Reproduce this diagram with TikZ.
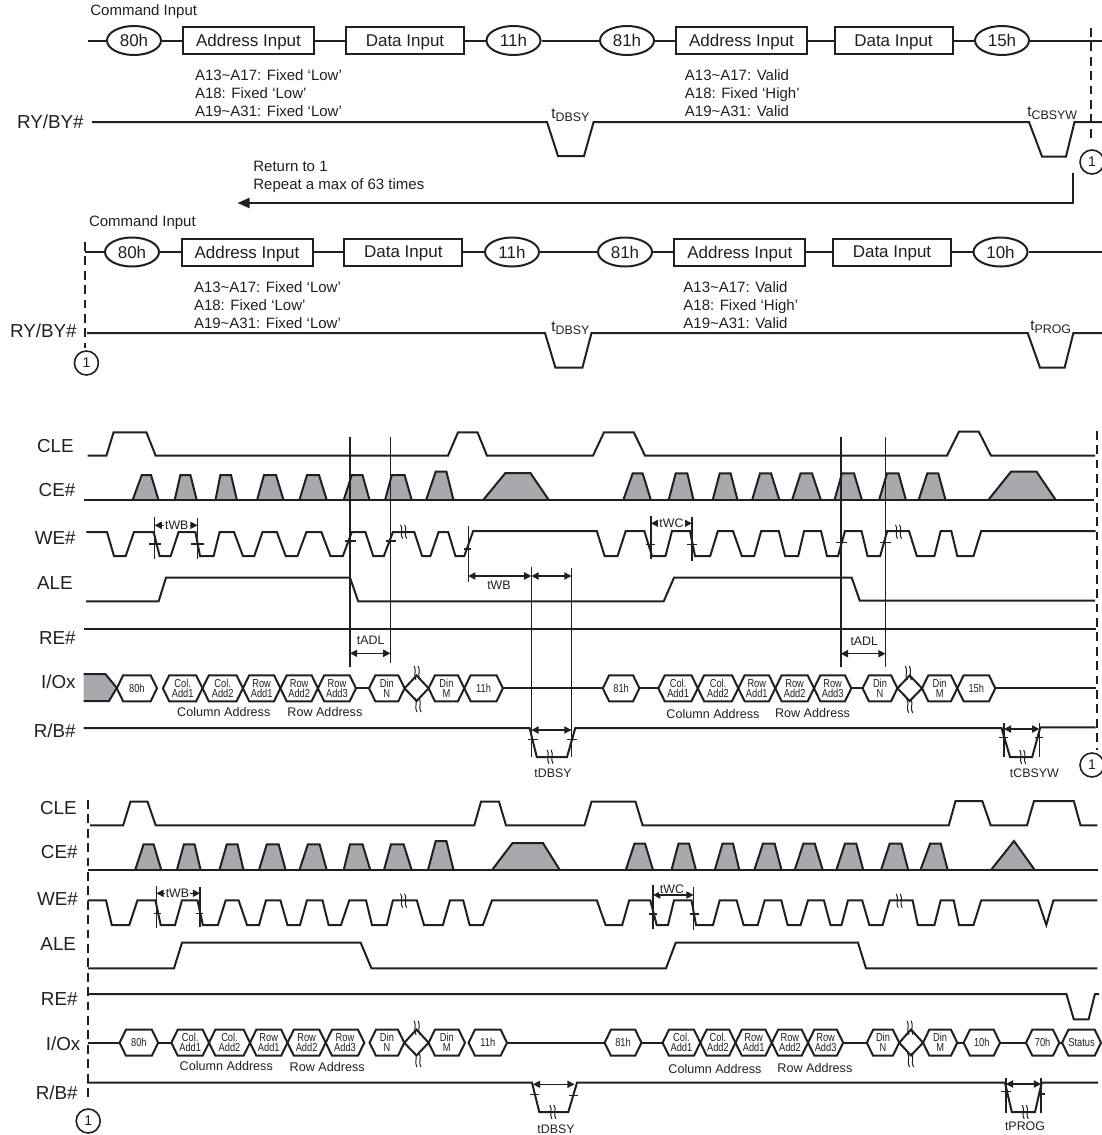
\documentclass[tikz,border=0pt]{standalone}
\usepackage{fontspec}
\setmainfont{Liberation Sans}
\newfontfamily\narrowfont[FakeStretch=0.8]{Liberation Sans}
\usetikzlibrary{arrows.meta,shapes.geometric,shapes.symbols}
\definecolor{ink}{HTML}{231F20}
\definecolor{pulsegray}{HTML}{A7A9AC}
\tikzset{
  sig/.style={color=ink,line width=1pt,line join=miter},
  thinv/.style={color=ink,line width=0.7pt},
  flow/.style={color=ink,line width=1pt},
  dim/.style={color=ink,line width=0.7pt,{Triangle[length=3.6pt,width=3.6pt]}-{Triangle[length=3.6pt,width=3.6pt]}},
  back/.style={color=ink,line width=1pt,-{Triangle[length=6pt,width=5pt]}},
  dashv/.style={color=ink,line width=1pt,dash pattern=on 4.4pt off 2.8pt},
  pulse/.style={draw=ink,fill=pulsegray,line width=1pt,line join=miter},
  cmdell/.style={draw=ink,line width=1pt,ellipse,inner sep=0pt,minimum width=27pt,minimum height=14.5pt,font=\fontsize{8.5}{10}\selectfont,text=ink},
  cmdbox/.style={draw=ink,line width=1pt,rectangle,inner sep=0pt,text depth=0pt,minimum height=13.5pt,font=\fontsize{8.5}{10}\selectfont,text=ink},
  busnode/.style={draw=ink,line width=1pt,signal,signal to=east and west,signal pointer angle=128,inner sep=0pt,outer sep=0pt,minimum height=13pt,align=center,font=\narrowfont\fontsize{5.8}{5}\selectfont,text=ink},
  sigl/.style={anchor=east,inner sep=0pt,text=ink,font=\fontsize{9.4}{11}\selectfont},
  lbl/.style={anchor=west,inner sep=0pt,align=left,text=ink,font=\fontsize{7.5}{9}\selectfont},
  addr/.style={anchor=west,inner sep=0pt,text=ink,font=\fontsize{6.3}{8}\selectfont},
  tlab/.style={inner sep=0pt,text=ink,font=\fontsize{6.2}{7}\selectfont},
  tgap/.style={tlab,fill=white,inner xsep=0.6pt,inner ysep=0.3pt},
  mark1/.style={draw=ink,line width=0.8pt,circle,inner sep=0pt,minimum size=12pt,text=ink,font=\fontsize{7}{8}\selectfont},
}
\newcommand{\brkmark}[2]{%
  \draw [color=ink,line width=0.5pt] ({#1-3},{#2-7}) .. controls ({#1},{#2-3}) and ({#1-4},{#2+3}) .. ({#1-1},{#2+7});
  \draw [color=ink,line width=0.5pt] ({#1+1},{#2-7}) .. controls ({#1+4},{#2-3}) and ({#1},{#2+3}) .. ({#1+3},{#2+7});
}
\newcommand{\tsubb}[1]{t\raisebox{-1.6pt}{\fontsize{6.2}{7}\selectfont #1}}
\begin{document}
\begin{tikzpicture}[x=0.5pt,y=-0.5pt]
  \useasboundingbox (0,0) rectangle (1102,1135);

  % first command row
  \node [lbl] (cmdA) at (90,12) {Command Input};
  \coordinate (stA) at (88,40.5);
  \coordinate (enA) at (1102,40.5);
  \node [cmdell] (e80A) at (134,40.5) {80h};
  \node [cmdbox,minimum width=65.5pt] (adrA) at (248.5,40.5) {Address Input};
  \node [cmdbox,minimum width=59pt] (datA) at (405,40.5) {Data Input};
  \node [cmdell] (e11A) at (513.5,40.5) {11h};
  \node [cmdell] (e81A) at (627,40.5) {81h};
  \node [cmdbox,minimum width=65.5pt] (adrB) at (741.5,40.5) {Address Input};
  \node [cmdbox,minimum width=59pt] (datB) at (893.5,40.5) {Data Input};
  \node [cmdell] (e15A) at (1002,40.5) {15h};
  \draw [flow] (stA) -- (e80A) -- (adrA) -- (datA) -- (e11A) -- (e81A) -- (adrB) -- (datB) -- (e15A) -- (enA);
  \node [lbl] (fixA) at (194.6,93) {A13\textasciitilde A17: Fixed ‘Low’\\A18: Fixed ‘Low’\\A19\textasciitilde A31: Fixed ‘Low’};
  \node [lbl] (valA) at (684.5,93) {A13\textasciitilde A17: Valid\\A18: Fixed ‘High’\\A19\textasciitilde A31: Valid};
  \node [sigl] (ryA) at (84,122) {RY/BY\#};
  \draw [sig] (92,122) -- (547,122) -- (558,156) -- (584,156) -- (593.6,122) -- (1029,122) -- (1042,156.5) -- (1066,156.5) -- (1074.5,122) -- (1102,122);
  \node [lbl] (dbA) at (551,115) {\tsubb{DBSY}};
  \node [lbl] (cbA) at (1027,113) {\tsubb{CBSYW}};
  \draw [dashv] (1091,28) -- (1091,143);
  \node [mark1] (oneA) at (1092,162) {1};
  \node [lbl] (retA) at (253,177) {Return to 1\\Repeat a max of 63 times};
  \coordinate (backS) at (1072.7,173);
  \coordinate (backC) at (1072.7,203);
  \coordinate (backE) at (237.5,203);
  \draw [back] (backS) -- (backC) -- (backE);

  % second command row
  \node [lbl] (cmdB) at (88.6,223) {Command Input};
  \coordinate (stB) at (85,252);
  \coordinate (enB) at (1102,252);
  \node [cmdell] (e80B) at (132,252) {80h};
  \node [cmdbox,minimum width=65.5pt] (adrC) at (247,252) {Address Input};
  \node [cmdbox,minimum width=59pt] (datC) at (403.3,252) {Data Input};
  \node [cmdell] (e11B) at (512,252) {11h};
  \node [cmdell] (e81B) at (625,252) {81h};
  \node [cmdbox,minimum width=65.5pt] (adrD) at (739.8,252) {Address Input};
  \node [cmdbox,minimum width=59pt] (datD) at (892,252) {Data Input};
  \node [cmdell] (e10B) at (1000.5,252) {10h};
  \draw [flow] (stB) -- (e80B) -- (adrC) -- (datC) -- (e11B) -- (e81B) -- (adrD) -- (datD) -- (e10B) -- (enB);
  \node [lbl] (fixB) at (193.6,304.7) {A13\textasciitilde A17: Fixed ‘Low’\\A18: Fixed ‘Low’\\A19\textasciitilde A31: Fixed ‘Low’};
  \node [lbl] (valB) at (683,304.7) {A13\textasciitilde A17: Valid\\A18: Fixed ‘High’\\A19\textasciitilde A31: Valid};
  \node [sigl] (ryB) at (77,331) {RY/BY\#};
  \draw [sig] (87,333) -- (545,333) -- (555.4,367.7) -- (582.4,367.7) -- (591.5,333) -- (1027.7,333) -- (1040,367.7) -- (1064.6,367.7) -- (1073.4,333) -- (1102,333);
  \node [lbl] (dbB) at (551,328) {\tsubb{DBSY}};
  \node [lbl] (prB) at (1030,327) {\tsubb{PROG}};
  \draw [dashv] (85,242) -- (85,348);
  \node [mark1] (oneB) at (86.4,363) {1};

  % first timing block
  \node [sigl] (cleC) at (74,446) {CLE};
  \node [sigl] (ceC) at (75.7,490) {CE\#};
  \node [sigl] (weC) at (76,538) {WE\#};
  \node [sigl] (aleC) at (73,583) {ALE};
  \node [sigl] (reC) at (76,638) {RE\#};
  \node [sigl] (ioC) at (76,682) {I/Ox};
  \node [sigl] (rbC) at (76,731) {R/B\#};
  \draw [sig] (87.5,455.7) -- (106.4,455.7) -- (113.6,432.3) -- (146.4,432.3) -- (155.7,455.7) -- (448,455.7) -- (458,432.3) -- (477.5,432.3) -- (487,455.7) -- (593,455.7) -- (604,432.3) -- (633.8,432.3) -- (645,455.7) -- (947,455.7) -- (959,431.5) -- (978.7,431.5) -- (991,455.7) -- (1095,455.7);
  \foreach \pa/\pb/\pc/\pd/\ptop in {132.5/141.8/151/158.6/475, 174.6/180.4/190.4/196.8/475, 215.4/220.4/231/237/475, 257/264/276/283.6/475, 299.3/307/319/326.8/475, 343.6/351.8/362.5/369.6/475, 385/391.8/404.6/411.8/475, 426/435.7/446.4/453.6/471.7, 482.9/505.4/530.4/549/473, 623.2/632.7/642.6/651/473.3, 668.6/675.7/687.3/693.6/473.3, 712.6/719.7/730.6/737.6/473.3, 752/760/771/779.5/473.3, 792/800.6/812/821/473.3, 834.4/842/854/862/473.3, 879/887/898.5/906/473.3, 918.5/927.3/938.3/945.6/473.3, 988/1011/1036.5/1056/471.7}
    \draw [pulse] (\pa,500.3) -- (\pb,\ptop) -- (\pc,\ptop) -- (\pd,500.3);
  \draw [sig] (83.6,500.3) -- (1094,500.3);
  \draw [sig] (86.4,532) -- (107,532) -- (114,556) -- (125.7,556) -- (134,532) -- (153.6,532) -- (159.6,556) -- (170.7,556) -- (178.6,532) -- (195.4,532) -- (200,556) -- (213.6,556) -- (219.6,532) -- (234,532) -- (242.9,556) -- (254.3,556) -- (262.5,532) -- (276.8,532) -- (285.7,556) -- (297.5,556) -- (306.4,532) -- (321.4,532) -- (330.4,556) -- (342.9,556) -- (351.8,532) -- (365.4,532) -- (373.2,556) -- (383.9,556) -- (392.9,532) -- (414.3,532) -- (422.1,556) -- (430.4,556) -- (438.6,532) -- (448.2,532) -- (455.4,556) -- (464.3,556) -- (473.2,531) -- (596.8,531) -- (604.6,556) -- (617.6,556) -- (625.7,531) -- (644.3,531) -- (652,556) -- (665.5,556) -- (672,531) -- (690,531) -- (695,556) -- (710.2,556) -- (717.9,531) -- (733,531) -- (741.8,556) -- (754.2,556) -- (761.2,531) -- (778.8,531) -- (785.1,556) -- (798.2,556) -- (804.1,531) -- (821,531) -- (827,556) -- (838,556) -- (845,531) -- (861.5,531) -- (867.5,556) -- (880.2,556) -- (887.2,531) -- (909,531) -- (916.8,556) -- (934.4,556) -- (940.7,531) -- (951.3,531) -- (957.3,556) -- (973.5,556) -- (981.2,531) -- (1095.6,531);
  \draw [sig] (86,601.3) -- (158.6,601.3) -- (166,577.7) -- (350,577.7) -- (358.2,601.3) -- (663.7,601.3) -- (674,577.7) -- (851.7,577.7) -- (859.8,600.7) -- (1095,600.7);
  \draw [sig] (83.6,628.7) -- (1095.6,628.7);
  % timing marks
  \draw [thinv] (154.6,516.7) -- (154.6,559) (197.5,518) -- (197.5,559);
  \draw [thinv] (149.3,544) -- (160.7,544) (191.4,544) -- (204.3,544);
  \coordinate (wbCa) at (154.6,525.3);
  \coordinate (wbCb) at (197.5,525.3);
  \draw [dim] (wbCa) -- (wbCb);
  \node [tgap] (wbClab) at (176.8,525) {tWB};
  \draw [thinv] (350,437.3) -- (350,666.7) (390.4,437.3) -- (390.4,663);
  \draw [thinv] (345,541) -- (355.7,541) (385.7,541) -- (395.7,541);
  \coordinate (adCa) at (350,653.3);
  \coordinate (adCb) at (390.4,653.3);
  \draw [dim] (adCa) -- (adCb);
  \node [tlab] (adClab) at (370.7,640.7) {tADL};
  \brkmark{403.6}{531.7}
  \draw [thinv] (468.2,525.7) -- (468.2,582.3) (464,549) -- (471,549);
  \coordinate (wbDa) at (468.2,576);
  \coordinate (wbDb) at (531.4,576);
  \coordinate (wbDc) at (571.5,576);
  \draw [dim] (wbDa) -- (wbDb);
  \draw [dim] (wbDb) -- (wbDc);
  \node [tlab] (wbDlab) at (499,585.7) {tWB};
  \draw [thinv] (531.4,566.7) -- (531.4,756.7) (571.5,567.7) -- (571.5,756.7);
  \draw [thinv] (651,515.7) -- (651,559.3) (691.9,516.7) -- (691.9,560.7);
  \draw [thinv] (645.7,544.3) -- (655,544.3) (687.3,544.3) -- (696.8,544.3);
  \coordinate (wcCa) at (651,523.3);
  \coordinate (wcCb) at (691.9,523.3);
  \draw [dim] (wcCa) -- (wcCb);
  \node [tgap] (wcClab) at (671.4,523) {tWC};
  \draw [thinv] (840.8,437) -- (840.8,667.3) (885.5,437) -- (885.5,667.3);
  \draw [thinv] (836,542.3) -- (846.7,542.3) (879.8,542.3) -- (890.7,542.3);
  \coordinate (adDa) at (840.8,653.7);
  \coordinate (adDb) at (885.5,653.7);
  \draw [dim] (adDa) -- (adDb);
  \node [tlab] (adDlab) at (864.3,641.3) {tADL};
  \brkmark{898.5}{531.7}
  % I/O bus
  \draw [pulse] (83.6,674) -- (105.4,674) -- (116.8,688) -- (109,701) -- (83.6,701);
  \foreach \hname/\xa/\xb/\hlbl in {c80/116.8/157/80h, c1/162.9/202.5/{Col.\\Add1}, c2/202.5/242.9/{Col.\\Add2}, c3/242.9/280.4/{Row\\Add1}, c4/280.4/317.9/{Row\\Add2}, c5/317.9/356/{Row\\Add3}, cn/369/404.6/{Din\\N}, cm/428.6/464.3/{Din\\M}, c11/464.3/502.9/11h, g81/602.8/639.4/81h, g1/658.4/697.8/{Col.\\Add1}, g2/697.8/738.3/{Col.\\Add2}, g3/738.3/775.3/{Row\\Add1}, g4/775.3/814/{Row\\Add2}, g5/814/851.3/{Row\\Add3}, gn/862.6/897.4/{Din\\N}, gm/922/957.3/{Din\\M}, g15/957.3/995.3/15h}
  {
    \pgfmathsetmacro{\xc}{(\xa+\xb)/2}
    \pgfmathsetmacro{\hw}{(\xb-\xa)*0.5}
    \node [busnode,minimum width=\hw pt] (\hname) at (\xc,688.3) {\hlbl};
  }
  \coordinate (ioCe) at (1095.6,688.3);
  \draw [sig] (c5.east) -- (cn.west) (c11.east) -- (g81.west) (g81.east) -- (g1.west) (g5.east) -- (gn.west) (g15.east) -- (ioCe);
  \coordinate (dmCt) at (416.6,675.5);
  \coordinate (dmCb) at (416.6,701);
  \coordinate (dmGt) at (909.7,675.5);
  \coordinate (dmGb) at (909.7,701);
  \draw [sig] (cn.east) -- (dmCt) -- (cm.west) -- (dmCb) -- (cn.east);
  \draw [sig] (gn.east) -- (dmGt) -- (gm.west) -- (dmGb) -- (gn.east);
  \brkmark{417}{673}
  \brkmark{418}{705}
  \brkmark{908.3}{673}
  \brkmark{909.7}{706}
  \node [addr] (colCa) at (176.8,711.7) {Column Address};
  \node [addr] (rowCa) at (287,711.7) {Row Address};
  \node [addr] (colCb) at (666,714.3) {Column Address};
  \node [addr] (rowCb) at (774.6,713.3) {Row Address};
  % ready/busy
  \draw [sig] (83.6,728) -- (529.6,728) -- (536.8,757) -- (567,757) -- (575.3,728) -- (1001.6,728) -- (1010,757) -- (1032.2,757) -- (1040.3,727.3) -- (1095.6,727.3);
  \draw [thinv] (527.9,739.3) -- (537.5,739.3) (567,739.3) -- (576.8,739.3);
  \coordinate (dbCa) at (531.4,730);
  \coordinate (dbCb) at (571.5,730);
  \draw [dim] (dbCa) -- (dbCb);
  \brkmark{550}{756.7}
  \node [tlab] (dbClab) at (553,773.3) {tDBSY};
  \draw [thinv] (1004,723.3) -- (1004,757.3) (1039.3,723.3) -- (1039.3,757.3);
  \draw [thinv] (999,737.7) -- (1008,737.7) (1035,737.7) -- (1043,737.7);
  \coordinate (cbCa) at (1004,729);
  \coordinate (cbCb) at (1039.3,729);
  \draw [dim] (cbCa) -- (cbCb);
  \brkmark{1022.7}{757}
  \node [tlab] (cbClab) at (1034.3,773.3) {tCBSYW};
  \draw [dashv] (1096.7,430.7) -- (1096.7,750);
  \node [mark1] (oneC) at (1092,765) {1};

  % second timing block
  \node [sigl] (cleD) at (77,807.7) {CLE};
  \node [sigl] (ceD) at (77.9,851.7) {CE\#};
  \node [sigl] (weD) at (78.2,899.3) {WE\#};
  \node [sigl] (aleD) at (76.4,944.3) {ALE};
  \node [sigl] (reD) at (77.9,999.3) {RE\#};
  \node [sigl] (ioD) at (80.7,1043.3) {I/Ox};
  \node [sigl] (rbD) at (78,1092.3) {R/B\#};
  \draw [dashv] (87.5,800) -- (87.5,1101.7);
  \node [mark1] (oneD) at (88.2,1121) {1};
  \draw [sig] (90,825.3) -- (123.2,825.3) -- (130.4,801.7) -- (147.5,801.7) -- (155.7,825.3) -- (474.3,825.3) -- (481,801.7) -- (499,801.7) -- (506,825.3) -- (584.5,825.3) -- (591.5,801.7) -- (635.5,801.7) -- (642.6,825.3) -- (948.8,825.3) -- (955.5,801) -- (982.3,801) -- (990.7,825.3) -- (1027,825.3) -- (1034,801) -- (1073.8,801) -- (1080.5,825.3) -- (1097.4,825.3);
  \foreach \pa/\pb/\pc/\pd/\ptop in {135/143.6/153.6/161.4/844.3, 176.8/183.9/194.6/200.7/844.3, 219.3/226.8/237.5/243.6/844.3, 258.9/266.8/278.6/285.7/844.3, 299.3/307.9/319.6/326.8/844.3, 343.6/350/362.5/370.4/844.3, 383.9/391/403.6/411.8/844.3, 427.9/435.7/446.4/453.6/841, 491.8/512.5/542.9/560/843, 625.7/634.5/645/653.1/843.5, 671.4/678.5/689/696/843.5, 714.7/722.5/733/739.4/843.5, 754.2/763/774.6/781.6/843.5, 794.6/803.4/814.7/822.8/843.5, 836.2/845/856.2/863.3/843.5, 880.9/889.7/901.3/908.3/843.5, 920.3/930.2/940.7/947.8/843.5, 990.7/1014/1014/1035/841}
    \draw [pulse] (\pa,870.3) -- (\pb,\ptop) -- (\pc,\ptop) -- (\pd,870.3);
  \draw [sig] (87.5,870.3) -- (1098,870.3);
  \draw [sig] (87.5,900.3) -- (106,900.3) -- (111.8,925) -- (129.3,925) -- (137.5,900.3) -- (155.4,900.3) -- (160.7,925) -- (175,925) -- (182,900.3) -- (197.5,900.3) -- (202.9,925) -- (217.9,925) -- (225.7,900.3) -- (238.6,900.3) -- (247,925) -- (259,925) -- (266,900.3) -- (280.4,900.3) -- (287.5,925) -- (300,925) -- (307,900.3) -- (322.5,900.3) -- (328.6,925) -- (341,925) -- (349.3,900.3) -- (366,900.3) -- (372,925) -- (386.8,925) -- (392.9,900.3) -- (416.8,900.3) -- (424,925) -- (442.9,925) -- (450,900.3) -- (463.2,900.3) -- (469.6,925) -- (482.9,925) -- (492,900.3) -- (596.8,900.3) -- (605.6,925) -- (622.2,925) -- (629.2,900.3) -- (650.3,900.3) -- (656.7,925) -- (668,925) -- (674,900.3) -- (691.5,900.3) -- (696,925) -- (713,925) -- (719.7,900.3) -- (736.6,900.3) -- (743.6,925) -- (757.7,925) -- (764.7,900.3) -- (781.3,900.3) -- (787.6,925) -- (800.6,925) -- (808,900.3) -- (823.9,900.3) -- (830.5,925) -- (841.5,925) -- (848,900.3) -- (862.2,900.3) -- (869.3,925) -- (882.6,925) -- (889.7,900.3) -- (912.6,900.3) -- (917.8,925) -- (934.4,925) -- (940.7,900.3) -- (953.7,900.3) -- (959,925) -- (973.5,925) -- (981.2,900.3) -- (1038,900.3) -- (1046.3,925) -- (1053.4,900.3) -- (1097.4,900.3);
  \draw [sig] (88,968.3) -- (174,968.3) -- (182,942.7) -- (360.7,942.7) -- (371.4,968.3) -- (666,968.3) -- (675.7,942.7) -- (858,942.7) -- (866,968.3) -- (1097.4,968.3);
  \draw [sig] (87.5,994) -- (1066.4,994) -- (1073.8,1019.3) -- (1088.6,1019.3) -- (1094.9,994) -- (1099,994);
  % timing marks
  \draw [thinv] (156.4,886) -- (156.4,928.3) (200,887) -- (200,926.7);
  \draw [thinv] (154.3,913.3) -- (160.7,913.3) (196.4,913.3) -- (202.9,913.3);
  \coordinate (wbEa) at (156.4,893.3);
  \coordinate (wbEb) at (200,893.3);
  \draw [dim] (wbEa) -- (wbEb);
  \node [tgap] (wbElab) at (177.5,893) {tWB};
  \brkmark{403.6}{900.7}
  \draw [thinv] (653.1,885) -- (653.1,929) (693.6,886.7) -- (693.6,930);
  \draw [thinv] (648.6,914) -- (656.7,914) (689.7,914) -- (699,914);
  \coordinate (wcEa) at (653.1,895);
  \coordinate (wcEb) at (693.6,895);
  \draw [dim] (wcEa) -- (wcEb);
  \node [tgap] (wcElab) at (672,889) {tWC};
  \brkmark{899.2}{900.7}
  % I/O bus
  \foreach \hname/\xa/\xb/\hlbl in {d80/119.6/158.2/80h, d1/171.4/209/{Col.\\Add1}, d2/209/250/{Col.\\Add2}, d3/250/287.5/{Row\\Add1}, d4/287.5/325.7/{Row\\Add2}, d5/325.7/364.3/{Row\\Add3}, dn/369.6/404.3/{Din\\N}, dm/428.6/465/{Din\\M}, d11/468.6/507/11h, h81/604.6/641.5/81h, h1/662.6/700.3/{Col.\\Add1}, h2/700.3/735.5/{Col.\\Add2}, h3/735.5/771.8/{Row\\Add1}, h4/771.8/808/{Row\\Add2}, h5/808/843.2/{Row\\Add3}, hn/866.8/899.2/{Din\\N}, hm/923/957.3/{Din\\M}, h10/963.6/1000/10h, h70/1026/1059.3/70h, hst/1065.7/1097.4/Status}
  {
    \pgfmathsetmacro{\xc}{(\xa+\xb)/2}
    \pgfmathsetmacro{\hw}{(\xb-\xa)*0.5}
    \node [busnode,minimum width=\hw pt] (\hname) at (\xc,1042.7) {\hlbl};
  }
  \coordinate (ioDs) at (87.5,1042.7);
  \draw [sig] (ioDs) -- (d80.west) (d80.east) -- (d1.west) (d11.east) -- (h81.west) (h81.east) -- (h1.west) (h5.east) -- (hn.west) (hm.east) -- (h10.west) (h10.east) -- (h70.west) (h70.east) -- (hst.west);
  \coordinate (dmDt) at (416.5,1029.5);
  \coordinate (dmDb) at (416.5,1055.5);
  \coordinate (dmHt) at (911,1029.5);
  \coordinate (dmHb) at (911,1055.5);
  \draw [sig] (dn.east) -- (dmDt) -- (dm.west) -- (dmDb) -- (dn.east);
  \draw [sig] (hn.east) -- (dmHt) -- (hm.west) -- (dmHb) -- (hn.east);
  \brkmark{417}{1027.7}
  \brkmark{418}{1060}
  \brkmark{910}{1027.7}
  \brkmark{910.5}{1060}
  \node [addr] (colDa) at (179.3,1065.7) {Column Address};
  \node [addr] (rowDa) at (289.3,1066.7) {Row Address};
  \node [addr] (colDb) at (668,1068.7) {Column Address};
  \node [addr] (rowDb) at (777,1067.7) {Row Address};
  % ready/busy
  \draw [sig] (86.8,1082.7) -- (532,1082.7) -- (539.3,1112) -- (568.3,1112) -- (577,1082.7) -- (1005,1082.7) -- (1011.8,1112) -- (1035,1112) -- (1041.7,1082.7) -- (1098,1082.7);
  \draw [thinv] (530.4,1094.3) -- (539.3,1094.3) (569.4,1095.7) -- (578.2,1095.7);
  \coordinate (dbEa) at (533,1084.3);
  \coordinate (dbEb) at (574.6,1084.3);
  \draw [dim] (dbEa) -- (dbEb);
  \brkmark{552.9}{1112}
  \node [tlab] (dbElab) at (556,1129) {tDBSY};
  \draw [thinv] (1005.8,1077.7) -- (1005.8,1113) (1041,1077.7) -- (1041,1113);
  \draw [thinv] (1001,1091.7) -- (1011,1091.7) (1037.5,1094) -- (1044.6,1094);
  \coordinate (prEa) at (1005.8,1084);
  \coordinate (prEb) at (1041,1084);
  \draw [dim] (prEa) -- (prEb);
  \brkmark{1025.2}{1112}
  \node [tlab] (prElab) at (1025,1126.7) {tPROG};
\end{tikzpicture}
\end{document}
